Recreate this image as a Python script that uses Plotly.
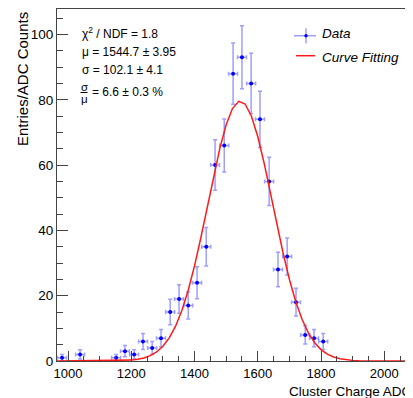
import plotly.graph_objects as go

# ---- data ----
bin_centers = [981, 1038, 1152, 1180, 1209, 1237, 1266, 1294, 1323, 1351, 1380,
               1408, 1437, 1465, 1494, 1522, 1550, 1579, 1607, 1636, 1664, 1693,
               1721, 1750, 1778, 1807]
counts = [1, 2, 1, 3, 2, 6, 4, 7, 15, 19, 17, 24, 35, 60, 66, 88, 93, 85, 74,
          55, 28, 32, 18, 8, 7, 6]
half_bin = 14.2

fit_x = [965, 1180, 1200, 1220, 1240, 1260, 1280, 1300, 1320, 1340, 1360, 1380,
         1400, 1420, 1440, 1460, 1480, 1500, 1520, 1540, 1560, 1580, 1600, 1620,
         1640, 1660, 1680, 1700, 1720, 1740, 1760, 1780, 1800, 1820, 1840, 1860,
         1880, 1900, 1920, 2091]
fit_y = [0, 0.14, 0.27, 0.51, 0.93, 1.63, 2.76, 4.50, 7.06, 10.67, 15.49, 21.68,
         29.14, 37.74, 47.05, 56.42, 65.12, 72.32, 77.31, 79.52, 78.71, 74.98,
         68.74, 60.65, 51.49, 42.07, 33.08, 25.03, 18.23, 12.78, 8.62, 5.59, 3.49,
         2.10, 1.21, 0.68, 0.36, 0.19, 0.09, 0]

x_range = [965, 2091]
y_range = [0, 107.8]
x_ticks = [1000, 1200, 1400, 1600, 1800, 2000]
y_ticks = [0, 20, 40, 60, 80, 100]

stats_lines = ["χ<sup>2</sup> / NDF = 1.8", "μ = 1544.7 ± 3.95", "σ = 102.1 ± 4.1"]
ratio_text = "= 6.6 ± 0.3 %"

# ---- layout geometry ----
# the page body has an 8px margin, so the figure is drawn 8px in from the corner
OFF = 8
W, H = 413 - OFF, 398 - OFF
L, R, T = 57 - OFF, 0, 9 - OFF
B = H - (361 - OFF)
PW, PH = W - L - R, H - T - B
FONT = "Liberation Sans, Arial, Helvetica, sans-serif"
ERR = "rgba(40,40,255,0.45)"


def px(x):
    """reference window pixel -> paper x"""
    return (x - OFF - L) / PW


def py(y):
    """reference window pixel -> paper y"""
    return (H - B - (y - OFF)) / PH


def label(x, y, text, size, xanchor="left", yanchor="middle", **kw):
    return dict(x=px(x), y=py(y), xref="paper", yref="paper", text=text,
                showarrow=False, xanchor=xanchor, yanchor=yanchor,
                font=dict(size=size, color="black", family=FONT), **kw)


fig = go.Figure()
fig.add_trace(go.Scatter(
    x=bin_centers, y=counts, mode="markers",
    marker=dict(color="#0000ff", size=4),
    error_y=dict(type="sqrt", color=ERR, thickness=1.5, width=2),
    error_x=dict(type="constant", value=half_bin, color=ERR, thickness=1.5, width=2),
    showlegend=False, cliponaxis=False,
))
fig.add_trace(go.Scatter(
    x=fit_x, y=fit_y, mode="lines",
    line=dict(color="#ff1a1a", width=1.5),
    showlegend=False, cliponaxis=False,
))

ann = []
for i, t in enumerate(stats_lines):
    ann.append(label(80, 33 + 18.5 * i, t, 12))
# sigma / mu fraction
ann.append(label(84, 87, "σ", 11.5, xanchor="center"))
ann.append(label(84, 98.5, "μ", 11.5, xanchor="center"))
ann.append(label(90, 92, ratio_text, 12))
# legend texts
ann.append(label(320, 33, "<i>Data</i>", 13.5))
ann.append(label(320, 57, "<i>Curve Fitting</i>", 13.5))
# axis titles
ann.append(label(23, 10, "Entries/ADC Counts", 15, xanchor="center",
                 yanchor="top", textangle=-90))
ann.append(label(287, 391, "Cluster Charge ADC Counts", 13.5))

shapes = [
    # fraction bar
    dict(type="line", xref="paper", yref="paper", x0=px(80.5), x1=px(87.5),
         y0=py(92.5), y1=py(92.5), line=dict(color="black", width=1)),
    # legend: data symbol
    dict(type="line", xref="paper", yref="paper", x0=px(294), x1=px(316),
         y0=py(35.7), y1=py(35.7), line=dict(color=ERR, width=1.5)),
    dict(type="line", xref="paper", yref="paper", x0=px(306), x1=px(306),
         y0=py(28.3), y1=py(43.3), line=dict(color=ERR, width=1.5)),
    dict(type="circle", xref="paper", yref="paper", x0=px(304.3), x1=px(307.7),
         y0=py(34), y1=py(37.4), fillcolor="#0000ff", line=dict(width=0)),
    # legend: fit line
    dict(type="line", xref="paper", yref="paper", x0=px(296), x1=px(315),
         y0=py(55.7), y1=py(55.7), line=dict(color="#ff1a1a", width=1.5)),
]

fig.update_layout(
    width=W, height=H,
    margin=dict(l=L, r=R, t=T, b=B, pad=0, autoexpand=False),
    paper_bgcolor="white", plot_bgcolor="white",
    font=dict(family=FONT, size=13, color="black"),
    annotations=ann, shapes=shapes, showlegend=False,
)
fig.update_xaxes(
    range=x_range, tickvals=x_ticks, ticktext=[str(v) for v in x_ticks],
    ticks="inside", ticklen=10, tickcolor="#444", tickwidth=1,
    minor=dict(dtick=50, tick0=0, ticks="inside", ticklen=5, tickcolor="#444"),
    showline=True, linecolor="#444", linewidth=1, mirror=True, automargin=False,
    showgrid=False, zeroline=False, tickfont=dict(size=13, family=FONT),
)
fig.update_yaxes(
    range=y_range, tickvals=y_ticks, ticktext=[str(v) for v in y_ticks],
    ticks="inside", ticklen=11, tickcolor="#444", tickwidth=1,
    minor=dict(dtick=5, tick0=0, ticks="inside", ticklen=6, tickcolor="#444"),
    showline=True, linecolor="#444", linewidth=1, automargin=False,
    showgrid=False, zeroline=False, tickfont=dict(size=13.5, family=FONT),
)

fig.write_html("out.html")
